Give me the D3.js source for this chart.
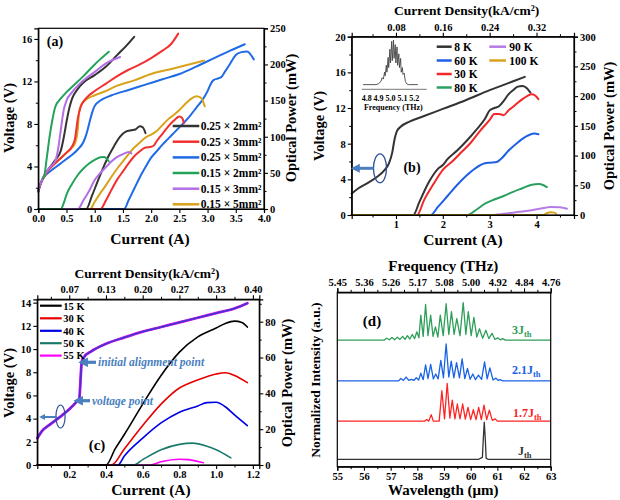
<!DOCTYPE html>
<html><head><meta charset="utf-8">
<script src="https://cdn.jsdelivr.net/npm/d3@7"></script>
<style>body{margin:0;background:#fff} svg text{font-family:'Liberation Serif','DejaVu Serif',serif;font-weight:bold}</style>
</head><body><svg id="c" width="620" height="500"></svg>
<script>
// ---------------- DATA ----------------
// Panel (a): V-I (left axis) and P-I (right axis) for 6 devices
const aLabels = ["0.25 × 2mm²","0.25 × 3mm²","0.25 × 5mm²","0.15 × 2mm²","0.15 × 3mm²","0.15 × 5mm²"];
const aV_025x2 = [[0,1.7],[0.05,2.5],[0.1,3.1],[0.2,3.9],[0.3,4.6],[0.4,5.5],[0.45,6.7],[0.5,8.2],[0.55,9.5],[0.6,10.4],[0.7,11.3],[0.8,11.9],[1.0,12.6],[1.2,13.4],[1.4,14.5],[1.55,15.3],[1.7,16.2]];
const aV_025x3 = [[0,1.7],[0.05,2.5],[0.1,3.0],[0.2,3.8],[0.3,4.3],[0.4,4.8],[0.5,5.3],[0.6,5.9],[0.65,6.6],[0.7,8.5],[0.75,9.6],[0.8,10.1],[0.9,10.7],[1.0,11.1],[1.2,11.8],[1.4,12.5],[1.6,13.1],[1.8,13.6],[2.0,14.2],[2.2,14.9],[2.35,15.5],[2.48,16.5]];
const aV_025x5 = [[0,1.6],[0.05,2.5],[0.1,3.0],[0.2,3.5],[0.3,3.9],[0.4,4.3],[0.5,4.7],[0.6,5.1],[0.7,5.6],[0.8,6.3],[0.85,7.0],[0.9,8.0],[0.95,9.0],[1.0,9.7],[1.1,10.2],[1.3,10.7],[1.6,11.2],[1.9,11.7],[2.2,12.2],[2.5,12.7],[2.8,13.4],[3.0,13.9],[3.2,14.4],[3.4,14.9],[3.66,15.5]];
const aV_015x2 = [[0.08,2.9],[0.1,3.0],[0.15,4.8],[0.2,6.8],[0.25,8.4],[0.3,9.6],[0.4,10.4],[0.5,11.0],[0.6,11.5],[0.8,12.5],[1.0,13.6],[1.1,14.1],[1.25,14.8]];
const aV_015x3 = [[0,1.7],[0.05,2.5],[0.1,3.1],[0.2,3.9],[0.3,4.5],[0.35,5.6],[0.4,7.5],[0.45,9.3],[0.5,10.2],[0.6,11.0],[0.8,12.1],[1.0,12.9],[1.2,13.7],[1.45,14.3]];
const aV_015x5 = [[0,1.7],[0.05,2.5],[0.1,3.0],[0.2,3.8],[0.3,4.3],[0.4,4.8],[0.5,5.3],[0.6,5.8],[0.65,6.2],[0.7,7.5],[0.72,9.0],[0.77,9.9],[0.85,10.3],[1.0,10.7],[1.2,11.1],[1.4,11.6],[1.7,12.1],[2.0,12.7],[2.3,13.1],[2.6,13.5],[2.94,13.96]];
const aP_025x2 = [[0,0],[0.85,0],[0.95,18],[1.05,38],[1.15,57],[1.25,74],[1.35,88],[1.45,100],[1.55,107],[1.65,109],[1.72,110],[1.8,114.5],[1.85,113],[1.9,105]];
const aP_025x3 = [[0,0],[1.1,0],[1.2,12],[1.3,27],[1.4,41],[1.5,52],[1.6,63],[1.7,73],[1.8,80],[1.9,85],[2.0,86],[2.05,88],[2.1,94],[2.2,104],[2.3,114],[2.4,122],[2.5,128],[2.55,126],[2.58,119]];
const aP_025x5 = [[0,0],[1.52,0],[1.6,12],[1.7,28],[1.8,44],[1.9,58],[2.0,71],[2.1,80],[2.2,89],[2.3,97],[2.4,105],[2.5,113],[2.6,121],[2.7,130],[2.8,140],[2.9,150],[3.0,163],[3.05,172],[3.1,178],[3.2,181],[3.25,183],[3.3,189],[3.4,201],[3.5,213],[3.6,217],[3.7,218],[3.75,215],[3.82,207]];
const aP_015x2 = [[0,0],[0.4,0],[0.45,8],[0.5,20],[0.6,35],[0.7,47],[0.8,56],[0.9,63],[1.0,68],[1.1,71.5],[1.17,72],[1.22,69],[1.25,66]];
const aP_015x3 = [[0,0],[0.7,0],[0.8,12],[0.9,25],[1.0,40],[1.1,50],[1.2,58],[1.3,66],[1.4,72],[1.5,76],[1.6,79],[1.65,77]];
const aP_015x5 = [[0,0],[0.92,0],[1.0,10],[1.1,22],[1.2,33],[1.3,45],[1.4,56],[1.5,66],[1.6,76],[1.7,85],[1.8,92],[1.9,99],[2.0,103],[2.1,108],[2.2,116],[2.3,124],[2.4,130],[2.5,137],[2.6,145],[2.7,152],[2.8,156],[2.88,154],[2.95,142]];

// Panel (b): temperature dependence
const bLabels = ["8 K","60 K","30 K","80 K","90 K","100 K"];
const bV_8K = [[0.055,2.4],[0.2,3.0],[0.4,3.6],[0.6,4.3],[0.75,5.0],[0.85,5.8],[0.92,7.0],[0.97,8.5],[1.02,9.4],[1.1,9.9],[1.3,10.5],[1.6,11.1],[2.0,11.9],[2.5,12.9],[3.0,14.0],[3.3,14.6],[3.75,15.5]];
const bP_8K = [[0.055,0],[1.37,0],[1.5,22],[1.7,55],[1.9,78],[2.0,84],[2.1,94],[2.3,108],[2.5,124],[2.7,142],[2.9,162],[3.0,176],[3.1,180],[3.2,183],[3.3,192],[3.4,203],[3.5,210],[3.6,216],[3.7,217],[3.8,213],[3.87,206]];
const bP_60K = [[0.055,0],[1.74,0],[1.9,14],[2.1,32],[2.3,50],[2.5,66],[2.7,79],[2.9,87],[3.0,88],[3.15,89],[3.25,95],[3.4,108],[3.6,122],[3.8,133],[3.95,137],[4.04,136]];
const bP_30K = [[0.055,0],[1.45,0],[1.6,25],[1.8,52],[2.0,76],[2.2,90],[2.4,106],[2.6,122],[2.8,142],[3.0,160],[3.1,170],[3.2,170],[3.3,168],[3.4,176],[3.5,182],[3.6,189],[3.7,195],[3.8,200],[3.9,203],[3.97,201],[4.04,195]];
const bP_80K = [[0.055,0],[2.52,0],[2.7,8],[2.9,19],[3.1,26],[3.3,32],[3.5,39],[3.7,45],[3.9,51],[4.05,52],[4.15,50],[4.22,47]];
const bP_90K = [[0.055,0],[3.0,0],[3.3,2],[3.6,5],[3.9,8],[4.1,11],[4.3,13.5],[4.5,13],[4.65,10.5]];
const bP_100K = [[0.055,0],[4.15,0],[4.22,3],[4.3,4.5],[4.38,4],[4.42,2]];
const bTopTicks = [1,2,3,4];
const bTopLabels = ["0.08","0.16","0.24","0.32"];
const bInsetTicks = [4.8,4.9,5.0,5.1,5.2];
const bInset = [[4.77,0.03],[4.88,0.03],[4.9,0.05],[4.92,0.1],[4.93,0.18],[4.94,0.15],[4.95,0.3],[4.955,0.22],[4.965,0.45],[4.97,0.3],[4.98,0.62],[4.985,0.4],[4.995,0.8],[5.0,0.5],[5.01,0.97],[5.015,0.55],[5.025,1.0],[5.03,0.6],[5.04,0.9],[5.045,0.5],[5.055,0.85],[5.06,0.45],[5.07,0.7],[5.075,0.4],[5.085,0.6],[5.09,0.3],[5.1,0.4],[5.105,0.25],[5.115,0.28],[5.125,0.1],[5.135,0.05],[5.15,0.03],[5.23,0.03]];

// Panel (c)
const cLabels = ["15 K","30 K","40 K","50 K","55 K"];
const cV = [[0.026,2.3],[0.05,2.9],[0.1,3.55],[0.15,4.15],[0.2,4.8],[0.245,5.55],[0.255,5.75],[0.262,7.5],[0.268,8.9],[0.28,9.3],[0.32,9.8],[0.4,10.45],[0.5,11.0],[0.6,11.5],[0.7,11.9],[0.8,12.3],[0.9,12.7],[1.0,13.1],[1.1,13.5],[1.17,13.95]];
const cP_15K = [[0.026,0],[0.40,0],[0.45,9],[0.5,17],[0.6,34],[0.7,50],[0.8,63],[0.9,71.5],[1.0,76.5],[1.05,79],[1.1,80.3],[1.14,79.5],[1.17,77]];
const cP_30K = [[0.026,0],[0.43,0],[0.5,9],[0.6,22],[0.7,34],[0.8,43],[0.85,45.5],[0.9,47.5],[1.0,50.8],[1.05,51.5],[1.1,50],[1.17,46]];
const cP_40K = [[0.026,0],[0.465,0],[0.5,5],[0.6,15],[0.7,23.5],[0.8,29.5],[0.9,33],[0.95,34.8],[1.0,35],[1.05,32.5],[1.1,28],[1.17,22]];
const cP_50K = [[0.026,0],[0.55,0],[0.6,3],[0.7,8.5],[0.8,11.5],[0.87,12.2],[0.95,10.5],[1.0,8.5],[1.08,4]];
const cP_55K = [[0.026,0],[0.64,0],[0.7,1.8],[0.8,3.2],[0.85,3],[0.9,2],[0.93,1.3]];
const cTopTicks = [0.2,0.4,0.6,0.8,1.0,1.2];
const cTopLabels = ["0.07","0.13","0.20","0.27","0.33","0.40"];

// Panel (d): spectra (wavelength µm, normalized intensity)
const dTopTicks = [55,56,57,58,59,60,61,62,63];
const dTopLabels = ["5.45","5.36","5.26","5.17","5.08","5.00","4.92","4.84","4.76"];
const dLabels = ["3J","2.1J","1.7J","J"];
const dOffsets = [3.33,2.26,1.2,0.195];
const d3Jth = [[55,0],[56.75,0],[56.85,0.05],[56.95,0.01],[57.05,0.07],[57.15,0.01],[57.25,0.08],[57.35,0.02],[57.45,0.1],[57.54,0.02],[57.63,0.12],[57.72,0.03],[57.81,0.15],[57.9,0.04],[57.98,0.22],[58.06,0.06],[58.13,0.66],[58.22,0.1],[58.31,0.94],[58.4,0.12],[58.5,0.66],[58.59,0.1],[58.68,0.35],[58.77,0.08],[58.86,0.66],[58.97,0.12],[59.08,0.96],[59.18,0.15],[59.28,0.75],[59.38,0.15],[59.48,0.57],[59.6,0.12],[59.72,0.99],[59.82,0.15],[59.91,0.75],[60.02,0.12],[60.12,0.6],[60.23,0.08],[60.33,0.3],[60.45,0.05],[60.57,0.26],[60.68,0.04],[60.8,0.18],[60.91,0.02],[61.02,0.06],[61.11,0.01],[61.2,0.04],[61.3,0],[63,0]];
const d21Jth = [[55,0],[57.3,0],[57.38,0.06],[57.48,0.01],[57.58,0.1],[57.68,0.01],[57.78,0.04],[57.87,0.01],[57.96,0.08],[58.05,0.02],[58.13,0.2],[58.22,0.03],[58.31,0.42],[58.4,0.06],[58.5,0.43],[58.6,0.05],[58.69,0.18],[58.78,0.05],[58.88,0.54],[58.98,0.08],[59.08,0.97],[59.18,0.1],[59.27,0.52],[59.37,0.08],[59.47,0.48],[59.58,0.08],[59.68,0.58],[59.78,0.06],[59.88,0.33],[59.98,0.04],[60.08,0.18],[60.18,0.03],[60.29,0.15],[60.41,0.04],[60.52,0.5],[60.62,0.05],[60.72,0.34],[60.84,0.02],[60.95,0.07],[61.03,0.01],[61.1,0.03],[61.2,0],[63,0]];
const d17Jth = [[55,0],[58.28,0],[58.35,0.04],[58.43,0],[58.52,0.17],[58.6,0],[58.82,0],[58.92,0.8],[59.02,0.06],[59.12,0.99],[59.22,0.08],[59.31,0.55],[59.41,0.06],[59.5,0.45],[59.6,0.06],[59.7,0.45],[59.8,0.05],[59.9,0.36],[60.0,0.04],[60.1,0.3],[60.2,0.04],[60.3,0.36],[60.4,0.04],[60.5,0.42],[60.6,0.04],[60.7,0.29],[60.81,0.02],[60.92,0.06],[61.0,0],[63,0]];
const dJth = [[55,0],[60.3,0],[60.38,0.03],[60.44,0.05],[60.47,0.5],[60.51,0.98],[60.55,0.5],[60.58,0.03],[60.65,0],[63,0]];

// ---------------- STYLE ----------------
const FONT = "'Liberation Serif','DejaVu Serif',serif";
const aColors = ["#333333","#f23030","#1f6be6","#23a35a","#b46ee6","#d9a21b"];
const bColors = ["#333333","#1f5fe6","#f22828","#2aa060","#b67ce6","#d9a21b"];
const cColors = ["#000000","#e60000","#0000e6","#1b7a6c","#ff00ff"];
const dColors = ["#2e9e5a","#1a62e6","#ff2424","#333333"];
const annColor = "#4a7fc0";

const svg = d3.select('#c');
svg.append('rect').attr('width',620).attr('height',500).attr('fill','#fff');
const defs = svg.append('defs');
defs.append('marker').attr('id','ah').attr('viewBox','0 0 10 10').attr('refX',2).attr('refY',5)
  .attr('markerWidth',3).attr('markerHeight',3).attr('orient','auto-start-reverse')
  .append('path').attr('d','M0,0L10,5L0,10z').attr('fill',annColor);

function styleAxis(a, fs){
  a.selectAll('path').attr('stroke','#000').attr('stroke-width',1.2);
  a.selectAll('line').attr('stroke','#000').attr('stroke-width',1.1);
  a.attr('font-family',null).attr('font-size',null);
  a.selectAll('text').style('font-size',fs+'px').style('font-family',FONT).style('font-weight','bold').attr('fill','#000');
}
function addAxis(gen, tx, ty, fs){
  const a = svg.append('g').attr('transform',`translate(${tx},${ty})`).call(gen);
  styleAxis(a, fs); return a;
}
function minor(gen, tx, ty){
  const a = svg.append('g').attr('transform',`translate(${tx},${ty})`).call(gen.tickFormat('').tickSize(2.5));
  a.select('path').remove();
  a.selectAll('line').attr('stroke','#000').attr('stroke-width',1);
}
function text(x,y,s,fs,opt={}){
  const t = svg.append('text').attr('x',x).attr('y',y).text(s).style('font-size',fs+'px')
   .style('font-family',FONT).style('font-weight','bold').attr('fill',opt.fill||'#000')
   .attr('text-anchor',opt.anchor||'middle');
  if(opt.rot) t.attr('transform',`rotate(${opt.rot},${x},${y})`);
  if(opt.italic) t.style('font-style','italic');
  return t;
}
function curve(data, xs, ys, color, w){
  svg.append('path').datum(data).attr('fill','none').attr('stroke',color).attr('stroke-width',w)
   .attr('stroke-linejoin','round').attr('stroke-linecap','round')
   .attr('d', d3.line().x(d=>xs(d[0])).y(d=>ys(d[1])).curve(d3.curveMonotoneX));
}
function box(L,R,T,B){
  svg.append('rect').attr('x',L).attr('y',T).attr('width',R-L).attr('height',B-T)
   .attr('fill','none').attr('stroke','#000').attr('stroke-width',1.2);
}

// ---------------- PANEL A ----------------
{
  const L=38.3,R=264,T=28.3,B=209;
  const x = d3.scaleLinear().domain([0,4]).range([L,R]);
  const yV = d3.scaleLinear().domain([0,17]).range([B,T]);
  const yP = d3.scaleLinear().domain([0,250]).range([B,T]);
  const V = [aV_025x2,aV_025x3,aV_025x5,aV_015x2,aV_015x3,aV_015x5];
  const P = [aP_025x2,aP_025x3,aP_025x5,aP_015x2,aP_015x3,aP_015x5];
  [2,5,1,0,4,3].forEach(i=>curve(V[i],x,yV,aColors[i],2));
  [2,5,1,0,4,3].forEach(i=>curve(P[i],x,yP,aColors[i],2));
  box(L,R,T,B);
  addAxis(d3.axisBottom(x).tickValues(d3.range(0,4.01,0.5)).tickFormat(d3.format('.1f')).tickSize(4).tickPadding(2),0,B,10.5);
  addAxis(d3.axisLeft(yV).tickValues([0,4,8,12,16]).tickSize(4).tickPadding(2),L,0,10.5);
  minor(d3.axisLeft(yV).tickValues([2,6,10,14]),L,0);
  addAxis(d3.axisRight(yP).tickValues([0,50,100,150,200,250]).tickSize(4).tickPadding(2),R,0,10.5);
  minor(d3.axisRight(yP).tickValues([25,75,125,175,225]),R,0);
  text(55,46,'(a)',14);
  text(150,244,'Current (A)',15.5);
  text(14,118,'Voltage (V)',14.5,{rot:-90});
  text(296,118,'Optical Power (mW)',14.5,{rot:-90});
  const ly=[126,141.7,157.4,173,188.7,204.3];
  aLabels.forEach((s,i)=>{
    svg.append('line').attr('x1',172.7).attr('x2',199.3).attr('y1',ly[i]).attr('y2',ly[i]).attr('stroke',aColors[i]).attr('stroke-width',2.5);
    text(200.7,ly[i]+4,s,11.5,{anchor:'start'});
  });
}

// ---------------- PANEL B ----------------
{
  const L=351.7,R=574,T=36.7,B=215;
  const x = d3.scaleLinear().domain([0.055,4.8]).range([L,R]);
  const yV = d3.scaleLinear().domain([0,20]).range([B,T]);
  const yP = d3.scaleLinear().domain([0,300]).range([B,T]);
  curve(bV_8K,x,yV,bColors[0],2);
  const P=[bP_8K,bP_60K,bP_30K,bP_80K,bP_90K,bP_100K];
  [0,2,1,3,4,5].forEach(i=>curve(P[i],x,yP,bColors[i],2));
  box(L,R,T,B);
  addAxis(d3.axisBottom(x).tickValues([1,2,3,4]).tickFormat(d3.format('d')).tickSize(4).tickPadding(2),0,B,10.5);
  minor(d3.axisBottom(x).tickValues([0.5,1.5,2.5,3.5,4.5]),0,B);
  addAxis(d3.axisTop(x).tickValues(bTopTicks).tickFormat((d,i)=>bTopLabels[i]).tickSize(4).tickPadding(2),0,T,10.5);
  minor(d3.axisTop(x).tickValues([0.5,1.5,2.5,3.5,4.5]),0,T);
  addAxis(d3.axisLeft(yV).tickValues([0,4,8,12,16,20]).tickSize(4).tickPadding(2),L,0,10.5);
  minor(d3.axisLeft(yV).tickValues([2,6,10,14,18]),L,0);
  addAxis(d3.axisRight(yP).tickValues([0,50,100,150,200,250,300]).tickSize(4).tickPadding(2),R,0,10.5);
  minor(d3.axisRight(yP).tickValues([25,75,125,175,225,275]),R,0);
  text(466.7,15,'Current Density(kA/cm²)',13.5);
  text(463,245,'Current (A)',15.5);
  text(324,126,'Voltage (V)',14.5,{rot:-90});
  text(614,126,'Optical Power (mW)',14.5,{rot:-90});
  text(412,172,'(b)',14);
  // inset
  const fx = d3.scaleLinear().domain([4.8,5.2]).range([366.7,414.3]);
  const fy = d3.scaleLinear().domain([0,1]).range([86,40]);
  svg.append('path').datum(bInset).attr('fill','none').attr('stroke','#444').attr('stroke-width',0.9)
    .attr('d',d3.line().x(d=>fx(d[0])).y(d=>fy(d[1])));
  svg.append('line').attr('x1',361.7).attr('x2',426.7).attr('y1',89.3).attr('y2',89.3).attr('stroke','#555').attr('stroke-width',0.8);
  bInsetTicks.forEach(t=>text(fx(t),100.5,d3.format('.1f')(t),8));
  text(393.3,110,'Frequency (THz)',8);
  // legend
  const rows=[46.7,60.5,74,87.5];
  const pos=[[0,0],[0,1],[0,2],[0,3],[1,0],[1,1]];
  const cx=[[436.7,451.7,454.3],[489.3,506,509.3]];
  bLabels.forEach((s,i)=>{
    const c=cx[pos[i][0]], y=rows[pos[i][1]];
    svg.append('line').attr('x1',c[0]).attr('x2',c[1]).attr('y1',y).attr('y2',y).attr('stroke',bColors[i]).attr('stroke-width',2.5);
    text(c[2],y+4,s,11.5,{anchor:'start'});
  });
  svg.append('ellipse').attr('cx',380).attr('cy',168.3).attr('rx',6.5).attr('ry',14.5).attr('fill','none').attr('stroke','#2a4f9a').attr('stroke-width',1.3);
  svg.append('line').attr('x1',373.5).attr('x2',358).attr('y1',168.3).attr('y2',168.3).attr('stroke',annColor).attr('stroke-width',3).attr('marker-end','url(#ah)');
}

// ---------------- PANEL C ----------------
{
  const L=37.3,R=259.3,T=299.3,B=465;
  const x = d3.scaleLinear().domain([0.026,1.235]).range([L,R]);
  const yV = d3.scaleLinear().domain([0,14.29]).range([B,T]);
  const yP = d3.scaleLinear().domain([0,92.5]).range([B,T]);
  const P=[cP_15K,cP_30K,cP_40K,cP_50K,cP_55K];
  [4,3,2,1,0].forEach(i=>curve(P[i],x,yP,cColors[i],1.6));
  curve(cV,x,yV,cColors[4],2.8);
  curve(cV,x,yV,"#8a2be2",2.0);
  curve(cV,x,yV,"#3a36c8",1.3);
  box(L,R,T,B);
  addAxis(d3.axisBottom(x).tickValues([0.2,0.4,0.6,0.8,1.0,1.2]).tickFormat(d3.format('.1f')).tickSize(4).tickPadding(2),0,B,10.5);
  minor(d3.axisBottom(x).tickValues([0.1,0.3,0.5,0.7,0.9,1.1]),0,B);
  addAxis(d3.axisTop(x).tickValues(cTopTicks).tickFormat((d,i)=>cTopLabels[i]).tickSize(4).tickPadding(2),0,T,10.5);
  minor(d3.axisTop(x).tickValues([0.1,0.3,0.5,0.7,0.9,1.1]),0,T);
  addAxis(d3.axisLeft(yV).tickValues([0,2,4,6,8,10,12,14]).tickSize(4).tickPadding(2),L,0,10.5);
  addAxis(d3.axisRight(yP).tickValues([0,20,40,60,80]).tickSize(4).tickPadding(2),R,0,10.5);
  minor(d3.axisRight(yP).tickValues([10,30,50,70,90]),R,0);
  text(147,278,'Current Density(kA/cm²)',13.5);
  text(151,495,'Current (A)',15.5);
  text(14,383,'Voltage (V)',14.5,{rot:-90});
  text(292,383,'Optical Power (mW)',14.5,{rot:-90});
  text(97,450,'(c)',15);
  const ly=[305.7,318.3,330.8,343.2,355.6];
  cLabels.forEach((s,i)=>{
    svg.append('line').attr('x1',40).attr('x2',61.7).attr('y1',ly[i]).attr('y2',ly[i]).attr('stroke',cColors[i]).attr('stroke-width',2.2);
    text(63.3,ly[i]+3.8,s,10.5,{anchor:'start'});
  });
  svg.append('line').attr('x1',96).attr('x2',86).attr('y1',362.3).attr('y2',362.3).attr('stroke',annColor).attr('stroke-width',3.2).attr('marker-end','url(#ah)');
  text(98,366.3,'initial alignment point',11.5,{anchor:'start',fill:annColor,italic:true});
  svg.append('line').attr('x1',90).attr('x2',81).attr('y1',400.7).attr('y2',400.7).attr('stroke',annColor).attr('stroke-width',3.2).attr('marker-end','url(#ah)');
  text(92,404.7,'voltage point',11.5,{anchor:'start',fill:annColor,italic:true});
  svg.append('ellipse').attr('cx',60.5).attr('cy',416.5).attr('rx',4.6).attr('ry',11.5).attr('fill','none').attr('stroke','#2a4f9a').attr('stroke-width',1.2);
  svg.append('line').attr('x1',57).attr('x2',44).attr('y1',417).attr('y2',417).attr('stroke',annColor).attr('stroke-width',2).attr('marker-end','url(#ah)');
}

// ---------------- PANEL D ----------------
{
  const L=337.3,R=550.7,T=292.3,B=466.7;
  const x = d3.scaleLinear().domain([55,63]).range([L,R]);
  const y = d3.scaleLinear().domain([0,4.59]).range([B,T]);
  const S=[d3Jth,d21Jth,d17Jth,dJth];
  S.forEach((s,i)=>{
    const off=dOffsets[i];
    svg.append('path').datum(s).attr('fill','none').attr('stroke',dColors[i]).attr('stroke-width',1.3)
      .attr('stroke-linejoin','round')
      .attr('d',d3.line().x(d=>x(d[0])).y(d=>y(d[1]+off)));
  });
  box(L,R,T,B);
  addAxis(d3.axisBottom(x).tickValues(d3.range(55,63.01,1)).tickFormat(d3.format('d')).tickSize(4).tickPadding(2),0,B,10.5);
  minor(d3.axisBottom(x).tickValues(d3.range(55.5,63,1)),0,B);
  addAxis(d3.axisTop(x).tickValues(dTopTicks).tickFormat((d,i)=>dTopLabels[i]).tickSize(4).tickPadding(2),0,T,10.5);
  minor(d3.axisTop(x).tickValues(d3.range(55.5,63,1)),0,T);
  text(443.3,271,'Frequency (THz)',15);
  text(443.3,495,'Wavelength (μm)',15);
  text(320,380,'Normalized Intensity (a.u.)',13.5,{rot:-90});
  text(372,326,'(d)',15);
  const lx=[512,512,513,518], lyy=[334,374,417,455];
  dLabels.forEach((s,i)=>{
    const t=text(lx[i],lyy[i],s,12,{anchor:'start',fill:dColors[i]});
    t.append('tspan').style('font-size','8.5px').attr('dy',3).text('th');
  });
}
</script></body></html>
